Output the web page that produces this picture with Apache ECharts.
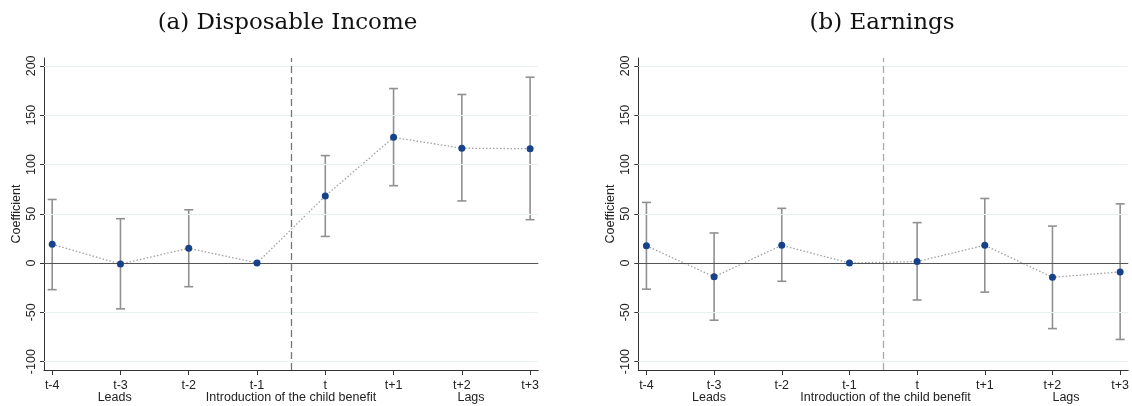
<!DOCTYPE html>
<html>
<head>
<meta charset="utf-8">
<script src="https://cdn.jsdelivr.net/npm/echarts@6/dist/echarts.min.js"></script>
<style>html,body{margin:0;padding:0;background:#fff;}#c{width:1132px;height:406px;}</style>
</head>
<body>
<div id="c"></div>
<script>
const categories = ['t-4','t-3','t-2','t-1','t','t+1','t+2','t+3'];
const periods = [-4,-3,-2,-1,0,1,2,3];
const incomeCoef = [19, -1, 15, 0, 68, 127.5, 116.5, 116];
const incomeLow  = [-27, -46.5, -24, null, 27, 78.5, 63, 44];
const incomeHigh = [64.5, 45, 54, null, 109, 177, 171, 188.5];
const earnCoef = [17.5, -14, 18, 0, 1.5, 18, -14.5, -9];
const earnLow  = [-26.5, -58, -18.5, null, -37.5, -29.5, -66.5, -77.5];
const earnHigh = [61.5, 30.5, 55.5, null, 41, 65.5, 37.5, 60];
const yTicks = [-100, -50, 0, 50, 100, 150, 200];
const gridTicks = [-100, -50, 50, 100, 150, 200];
const titles = ['(a) Disposable Income', '(b) Earnings'];
const bottomTexts = ['Leads', 'Introduction of the child benefit', 'Lags'];

const FONT = '"Liberation Sans", Arial, sans-serif';
const chart = echarts.init(document.getElementById('c'), null, {renderer: 'canvas'});

function xAxisCfg(gi) {
  return {
    type: 'value', gridIndex: gi, min: -4.12, max: 3.12,
    axisLine: {show: true, onZero: false, lineStyle: {color: '#333', width: 1}},
    axisTick: {show: true, customValues: periods, length: 5, lineStyle: {color: '#333'}},
    axisLabel: {customValues: periods, margin: 9, color: '#222', fontFamily: FONT, fontSize: 12.5,
      formatter: v => categories[periods.indexOf(Math.round(v))] || ''},
    splitLine: {show: false}
  };
}
function yAxisCfg(gi) {
  return {
    type: 'value', gridIndex: gi, min: -108.5, max: 208,
    name: 'Coefficient', nameLocation: 'middle', nameGap: 21,
    nameTextStyle: {color: '#222', fontFamily: FONT, fontSize: 12.5},
    axisLine: {show: true, onZero: false, lineStyle: {color: '#333', width: 1}},
    axisTick: {show: true, customValues: yTicks, length: 4, lineStyle: {color: '#333'}},
    axisLabel: {customValues: yTicks, rotate: 90, margin: 6, color: '#222', fontFamily: FONT, fontSize: 12.5},
    splitLine: {show: false}
  };
}
function errData(low, high) {
  const out = [];
  periods.forEach((p, i) => { if (low[i] !== null) out.push([p, low[i], high[i]]); });
  return out;
}
function panelSeries(gi, coef, low, high, dashColor) {
  return [
    {
      type: 'line', xAxisIndex: gi, yAxisIndex: gi, data: [], silent: true, z: 1,
      markLine: {
        silent: true, symbol: 'none', label: {show: false}, animation: false,
        data: gridTicks.map(v => ({yAxis: v, lineStyle: {color: '#e8f0f2', width: 1.2, type: 'solid'}}))
          .concat([{yAxis: 0, lineStyle: {color: '#555', width: 1.2, type: 'solid'}}])
          .concat([{xAxis: -0.5, lineStyle: {color: dashColor, width: 1.3, type: [7, 4]}}])
      }
    },
    {
      type: 'custom', xAxisIndex: gi, yAxisIndex: gi, z: 3, silent: true,
      data: errData(low, high),
      encode: {x: 0, y: [1, 2]},
      renderItem: function (params, api) {
        const x = api.value(0);
        const p1 = api.coord([x, api.value(1)]);
        const p2 = api.coord([x, api.value(2)]);
        const w = 4.5;
        const st = {stroke: '#909090', lineWidth: 1.6};
        return {type: 'group', children: [
          {type: 'line', shape: {x1: p1[0], y1: p1[1], x2: p2[0], y2: p2[1]}, style: st},
          {type: 'line', shape: {x1: p1[0]-w, y1: p1[1], x2: p1[0]+w, y2: p1[1]}, style: st},
          {type: 'line', shape: {x1: p2[0]-w, y1: p2[1], x2: p2[0]+w, y2: p2[1]}, style: st}
        ]};
      }
    },
    {
      type: 'line', xAxisIndex: gi, yAxisIndex: gi, z: 4, silent: true,
      data: periods.map((p, i) => [p, coef[i]]),
      showSymbol: false, symbol: 'none',
      lineStyle: {color: '#a0a0a0', width: 1.3, type: [1.5, 2]}
    },
    {
      type: 'scatter', xAxisIndex: gi, yAxisIndex: gi, z: 5, silent: true,
      data: periods.map((p, i) => [p, coef[i]]),
      symbol: 'circle', symbolSize: 7,
      itemStyle: {color: '#17428a', opacity: 1}
    }
  ];
}

const leftPos = [[114.7, 291, 471], [709, 885.5, 1066]];
const titlePos = [287.5, 882];
const graphics = [];
[0, 1].forEach(gi => {
  graphics.push({type: 'text', x: titlePos[gi], y: 23,
    style: {text: titles[gi], font: '23px "DejaVu Serif", serif', fill: '#111', textAlign: 'center', textVerticalAlign: 'middle'}});
  bottomTexts.forEach((t, j) => {
    graphics.push({type: 'text', x: leftPos[gi][j], y: 398,
      style: {text: t, font: '12.5px ' + FONT, fill: '#222', textAlign: 'center', textVerticalAlign: 'middle'}});
  });
});

chart.setOption({
  animation: false,
  backgroundColor: '#fff',
  grid: [
    {left: 44, top: 58, width: 494.3, height: 312},
    {left: 638.3, top: 58, width: 494.7, height: 312}
  ],
  xAxis: [xAxisCfg(0), xAxisCfg(1)],
  yAxis: [yAxisCfg(0), yAxisCfg(1)],
  graphic: graphics,
  series: panelSeries(0, incomeCoef, incomeLow, incomeHigh, '#777')
    .concat(panelSeries(1, earnCoef, earnLow, earnHigh, '#aaa'))
});
</script>
</body>
</html>
